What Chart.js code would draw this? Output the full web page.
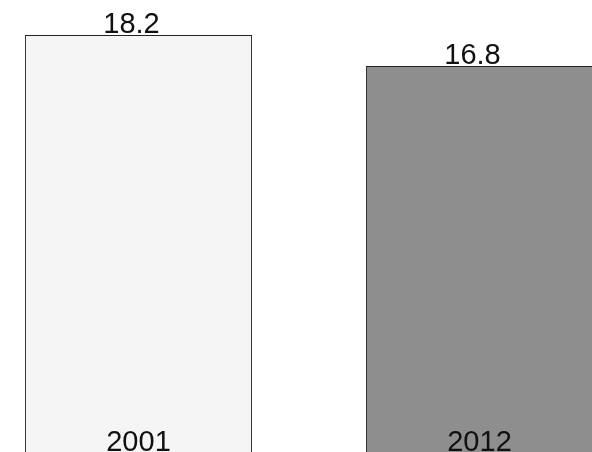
<!DOCTYPE html>
<html>
<head>
<meta charset="utf-8">
<script src="https://cdn.jsdelivr.net/npm/chart.js@4"></script>
<style>
  html, body { margin: 0; padding: 0; background: #ffffff; }
  body { width: 592px; height: 452px; overflow: hidden; position: relative; }
  #chart { position: absolute; left: -32px; top: 0; }
</style>
</head>
<body>
<canvas id="chart" width="682" height="452"></canvas>
<script>
// Survey years and their values
const years = ['2001', '2012'];
const values = [18.2, 16.8];

// Visible value range of the vertical axis
const axisMin = -0.63;
const axisMax = 19.78;

const fillColors = ['#f5f5f5', '#8e8e8e'];
const labelFont = '29px "Liberation Sans", Arial, sans-serif';

// Writes each value above its bar and the year near the foot of the bar
const barLabels = {
  id: 'barLabels',
  afterDatasetsDraw(chart) {
    const ctx = chart.ctx;
    const meta = chart.getDatasetMeta(0);
    ctx.save();
    ctx.font = labelFont;
    ctx.fillStyle = '#111111';
    ctx.textAlign = 'center';
    ctx.textBaseline = 'alphabetic';
    meta.data.forEach((bar, i) => {
      ctx.fillText(values[i].toFixed(1), bar.x - 7, bar.y - 2);
      ctx.fillText(years[i], bar.x, chart.height - 1);
    });
    ctx.restore();
  }
};

new Chart(document.getElementById('chart'), {
  type: 'bar',
  data: {
    labels: years,
    datasets: [{
      data: values,
      base: axisMin,
      backgroundColor: fillColors,
      borderColor: '#222222',
      borderWidth: 1,
      barPercentage: 0.666,
      categoryPercentage: 1.0
    }]
  },
  options: {
    responsive: false,
    animation: false,
    layout: { padding: 0 },
    plugins: {
      legend: { display: false },
      tooltip: { enabled: false }
    },
    scales: {
      x: { display: false, offset: true },
      y: { display: false, min: axisMin, max: axisMax }
    }
  },
  plugins: [barLabels]
});
</script>
</body>
</html>
